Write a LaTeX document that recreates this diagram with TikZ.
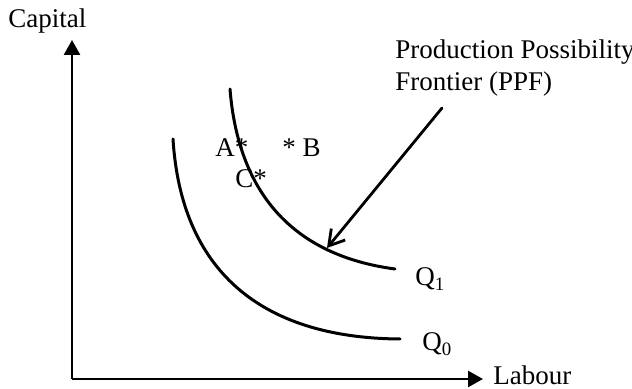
\documentclass[tikz,border=0pt]{standalone}
\usepackage{fontspec}
\setmainfont{Liberation Serif}
\usetikzlibrary{calc, arrows.meta}

\begin{document}
\begin{tikzpicture}[x=0.5pt, y=-0.5pt,
    every node/.style={inner sep=0pt, font=\fontsize{13.5}{16}\selectfont},
    axis/.style={line width=1.3pt, -{Triangle[length=7.5pt, width=8pt]}},
    isoquant/.style={line width=1.5pt, line cap=round},
    pointer/.style={line width=1.4pt, line cap=round,
        -{Straight Barb[length=7.5pt, width=9pt, line width=1.4pt]}}]
    \useasboundingbox (0,0) rectangle (632,389);

    \coordinate (O) at (72, 379);
    \coordinate (Ytip) at (72, 40);
    \coordinate (Xtip) at (483, 379);

    % axes
    \draw[axis] (O) -- (Ytip);
    \draw[axis] (O) -- (Xtip);
    \node[anchor=base west] (capital) at (8, 28) {Capital};
    \node[anchor=base west] (labour) at (493, 385) {Labour};

    % isoquants
    \coordinate (Q0s) at (173, 139);
    \coordinate (Q0e) at (400, 339);
    \coordinate (Q1s) at (230, 89);
    \coordinate (Q1e) at (395, 269);
    \draw[isoquant] (Q0s) .. controls (181, 268) and (258, 338) .. (Q0e);
    \draw[isoquant] (Q1s) .. controls (238, 190) and (290, 255) .. (Q1e);
    \node[anchor=base west] (qzero) at (422, 351) {Q\textsubscript{0}};
    \node[anchor=base west] (qone) at (415, 286) {Q\textsubscript{1}};

    % points
    \node[anchor=base west] (ptA) at (215, 157) {A*};
    \node[anchor=base west] (ptB) at (282, 157) {* B};
    \node[anchor=base west] (ptC) at (235, 188) {C*};

    % label and pointer
    \node[anchor=north west, align=left] (ppf) at (395, 39.5)
        {Production Possibility\\Frontier (PPF)};
    \coordinate (PPFstart) at (442, 108);
    \coordinate (PPFtip) at (327, 248);
    \draw[pointer] (PPFstart) -- (PPFtip);
\end{tikzpicture}
\end{document}
